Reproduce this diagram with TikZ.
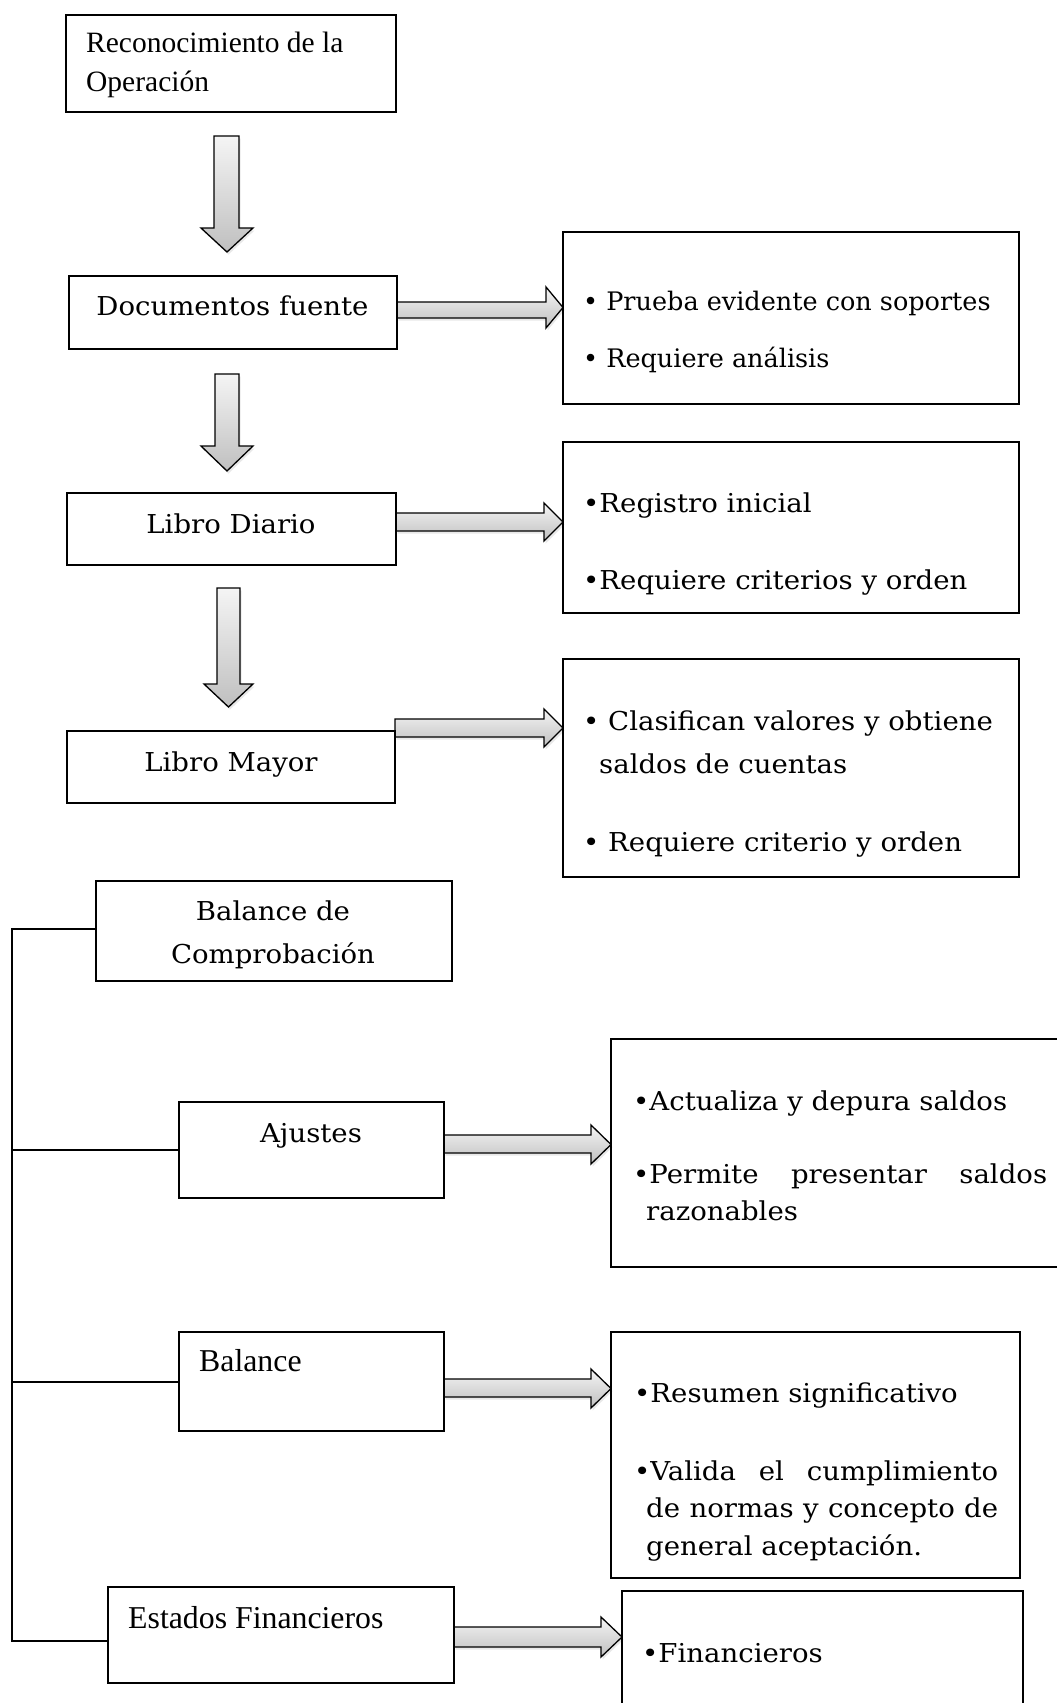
\documentclass[tikz,border=0pt]{standalone}
\usepackage{fontspec}
\setmainfont[FakeStretch=1.06]{DejaVu Serif}
\newfontfamily\plainserif{DejaVu Serif}
\newfontfamily\tnr{Liberation Serif}
\usetikzlibrary{shadows}
\newcommand\bx[5]{\node[box, minimum width={(#4-#2)*1pt}, minimum height={(#5-#3)*1pt}] (#1) at (#2,#3) {};}
\newcommand\varr[7]{\path[blockarrow] (#1,#5) -- (#2,#5) -- (#2,#6) -- (#4,#6) -- ({(#3+#4)/2},#7) -- (#3,#6) -- (#1,#6) -- cycle;}
\newcommand\harr[7]{\path[blockarrow] (#1,#2) -- (#4,#2) -- (#4,#5) -- (#7,{(#5+#6)/2}) -- (#4,#6) -- (#4,#3) -- (#1,#3) -- cycle;}
\begin{document}
\begin{tikzpicture}[x=1pt,y=-1pt,
  box/.style={draw=black, line width=1.2pt, rectangle, inner sep=0pt, outer sep=0pt, anchor=north west},
  btxt/.style={font=\fontsize{26}{30}\selectfont, inner sep=0pt},
  ptxt/.style={font=\plainserif\fontsize{25.5}{30}\selectfont, inner sep=0pt},
  ttxt/.style={font=\tnr\fontsize{29.5}{34}\selectfont, inner sep=0pt},
  tbtxt/.style={font=\tnr\fontsize{31.8}{36}\selectfont, inner sep=0pt},
  blockarrow/.style={draw=black, line width=1.3pt, line join=miter, top color=gray!8, bottom color=gray!50,
    drop shadow={opacity=0.18, shadow xshift=1.5pt, shadow yshift=-2.5pt}},
  conn/.style={draw=black, line width=1.6pt}]
\useasboundingbox (0,0) rectangle (1057,1703);
\fill[white] (0,0) rectangle (1057,1703);

% block arrows
\varr{214}{239}{201}{253}{136}{228}{252}
\varr{215}{239}{201}{253}{374}{446}{471}
\varr{217}{240}{204}{253}{588}{684}{707}
\harr{397}{302}{318}{546}{287}{328}{563}
\harr{396}{513}{531}{544}{503}{541}{563}
\harr{395}{719}{737}{544}{709}{747}{563}
\harr{444}{1135}{1153}{591}{1125}{1164}{611}
\harr{444}{1379}{1397}{591}{1369}{1408}{611}
\harr{454}{1627}{1647}{601}{1617}{1657}{622}

% left boxes
\bx{rec}{66}{15}{396}{112}
\bx{doc}{69}{276}{397}{349}
\bx{dia}{67}{493}{396}{565}
\bx{may}{67}{731}{395}{803}
\bx{bal}{96}{881}{452}{981}
\bx{aju}{179}{1102}{444}{1198}
\bx{blc}{179}{1332}{444}{1431}
\bx{est}{108}{1587}{454}{1683}
% right boxes
\bx{r1}{563}{232}{1019}{404}
\bx{r2}{563}{442}{1019}{613}
\bx{r3}{563}{659}{1019}{877}
\bx{r4}{611}{1039}{1064}{1267}
\bx{r5}{611}{1332}{1020}{1578}
\bx{r6}{622}{1591}{1023}{1712}

% connectors
\coordinate (trk) at (12,929);
\draw[conn] (bal.west |- trk) -- (trk) |- ([yshift=-6pt]est.west);
\draw[conn] (aju.west) -- (aju.west -| trk);
\draw[conn] ([yshift=-0.5pt]blc.west) -- ([yshift=-0.5pt]blc.west -| trk);

% texts
\node[ttxt, anchor=base west] (t1a) at (86,52) {Reconocimiento de la};
\node[ttxt, anchor=base west] (t1b) at (86,91) {Operación};
\node[btxt, anchor=base] (t2) at (232.5,315) {Documentos fuente};
\node[btxt, anchor=base] (t3) at (231,533) {Libro Diario};
\node[btxt, anchor=base] (t4) at (231,771) {Libro Mayor};
\node[btxt, anchor=base] (t5a) at (273,920) {Balance de};
\node[btxt, anchor=base] (t5b) at (273,963) {Comprobación};
\node[btxt, anchor=base] (t6) at (311,1142) {Ajustes};
\node[tbtxt, anchor=base west] (t7) at (199,1371) {Balance};
\node[tbtxt, anchor=base west] (t8) at (128,1628) {Estados Financieros};

\node[ptxt, anchor=base west] (r1a) at (583,310) {• Prueba evidente con soportes};
\node[ptxt, anchor=base west] (r1b) at (583,367) {• Requiere análisis};
\node[btxt, anchor=base west] (r2a) at (583,512) {•Registro inicial};
\node[btxt, anchor=base west] (r2b) at (583,589) {•Requiere criterios y orden};
\node[btxt, anchor=base west] (r3a) at (583,730) {• Clasifican valores y obtiene};
\node[btxt, anchor=base west] (r3b) at (599,773) {saldos de cuentas};
\node[btxt, anchor=base west] (r3c) at (583,851) {• Requiere criterio y orden};
\node[btxt, anchor=base west] (r4a) at (633,1110) {•Actualiza y depura saldos};
\node[btxt, anchor=base west] (r4b) at (633,1183) {\makebox[414pt][s]{•Permite presentar saldos}};
\node[btxt, anchor=base west] (r4c) at (646,1220) {razonables};
\node[btxt, anchor=base west] (r5a) at (634,1402) {•Resumen significativo};
\node[btxt, anchor=base west] (r5b) at (634,1480) {\makebox[364pt][s]{•Valida el cumplimiento}};
\node[btxt, anchor=base west] (r5c) at (646,1517) {\makebox[352pt][s]{de normas y concepto de}};
\node[btxt, anchor=base west] (r5d) at (646,1555) {general aceptación.};
\node[btxt, anchor=base west] (r6a) at (642,1662) {•Financieros};
\end{tikzpicture}
\end{document}
